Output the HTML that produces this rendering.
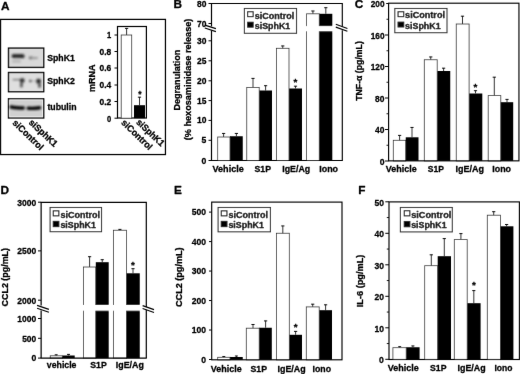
<!DOCTYPE html>
<html lang="en">
<head>
<meta charset="utf-8">
<title>Figure</title>
<style>
html,body{margin:0;padding:0;background:#fff;}
body{width:520px;height:374px;overflow:hidden;}
svg{display:block;}
svg text{font-family:"Liberation Sans", sans-serif;font-weight:bold;fill:#000;stroke:#000;stroke-width:0.3px;stroke-linejoin:round;}
svg text.rt{stroke-width:0.3px;}
</style>
</head>
<body>
<svg width="520" height="374" viewBox="0 0 520 374">
<defs><filter id="soft" x="0" y="0" width="520" height="374" filterUnits="userSpaceOnUse"><feConvolveMatrix order="3" kernelMatrix="1 18 1 18 324 18 1 18 1" divisor="400" edgeMode="none" preserveAlpha="false"/></filter><filter id="bl" x="-20%" y="-50%" width="140%" height="200%"><feGaussianBlur stdDeviation="0.9"/></filter></defs>
<rect x="0" y="0" width="520" height="374" fill="#fff"/>
<g filter="url(#soft)">
<text x="1.0" y="10" font-size="11.8" text-anchor="start">A</text>
<text x="173.4" y="8" font-size="11.8" text-anchor="start">B</text>
<text x="354.8" y="8.3" font-size="11.8" text-anchor="start">C</text>
<text x="0.4" y="193.8" font-size="11.8" text-anchor="start">D</text>
<text x="174.0" y="193.8" font-size="11.8" text-anchor="start">E</text>
<text x="358.3" y="193.5" font-size="11.8" text-anchor="start">F</text>
<rect x="0.55" y="19.4" width="164.9" height="135.15" fill="none" stroke="#000" stroke-width="1.25"/>
<rect x="8.5" y="48.1" width="35.2" height="19.3" fill="#d9d9d9" stroke="#111" stroke-width="1.4"/>
<rect x="8.5" y="72.5" width="35.2" height="19.2" fill="#dfdfdf" stroke="#111" stroke-width="1.4"/>
<rect x="8.5" y="98.8" width="35.2" height="19.2" fill="#d0d0d0" stroke="#111" stroke-width="1.4"/>
<rect x="9.7" y="100" width="32.8" height="16.8" fill="none" stroke="#eee" stroke-width="0.8"/>
<g filter="url(#bl)">
<rect x="11.6" y="53.9" width="13" height="4.4" rx="2" fill="#2a2a2a"/>
<rect x="12" y="59.5" width="9" height="3.5" rx="1.5" fill="#bdbdbd"/>
<rect x="28.8" y="56.4" width="4.4" height="2.8" rx="1.2" fill="#6e6e6e"/>
<rect x="31" y="57.0" width="7" height="2" rx="0.9" fill="#9a9a9a"/>
<rect x="12.5" y="78.9" width="8.5" height="1.3" rx="0.6" fill="#6a6a6a"/>
<rect x="19.8" y="78.3" width="4.8" height="4.4" rx="1.6" fill="#333"/>
<rect x="20" y="82" width="2.8" height="5.6" rx="1.3" fill="#5a5a5a"/>
<rect x="29" y="79.8" width="2.8" height="2.4" rx="1" fill="#555"/>
<rect x="31.5" y="80.5" width="5" height="1" rx="0.5" fill="#aaa"/>
<rect x="36" y="78.8" width="5" height="4.8" rx="1.7" fill="#333"/>
<rect x="38" y="83" width="3" height="4.8" rx="1.3" fill="#5a5a5a"/>
<path d="M11.2 107.0 Q14 107.5 17 107.7 T23.2 108.0" fill="none" stroke="#000" stroke-width="3.5" stroke-linecap="round"/>
<path d="M28.2 108.2 Q32 108.5 35 108.2 T39.6 107.7" fill="none" stroke="#000" stroke-width="3.4" stroke-linecap="round"/>
</g>
<text x="47.2" y="61" font-size="9.7" text-anchor="start" textLength="27.6" lengthAdjust="spacingAndGlyphs">SphK1</text>
<text x="47.2" y="84.0" font-size="9.7" text-anchor="start" textLength="27.6" lengthAdjust="spacingAndGlyphs">SphK2</text>
<text x="47.4" y="109.8" font-size="9.7" text-anchor="start" textLength="29.2" lengthAdjust="spacingAndGlyphs">tubulin</text>
<text class="rt" transform="translate(12.0,123.6) rotate(44)" font-size="9.2" textLength="39" lengthAdjust="spacingAndGlyphs">siControl</text>
<text class="rt" transform="translate(28.2,123.2) rotate(43)" font-size="9.2" textLength="35.5" lengthAdjust="spacingAndGlyphs">siSphK1</text>
<rect x="117.5" y="26.5" width="28.9" height="91.5" fill="none" stroke="#000" stroke-width="1.2"/>
<line x1="114.5" y1="35" x2="117.6" y2="35" stroke="#000" stroke-width="1.0"/>
<text x="111.3" y="38.3" font-size="8.6" text-anchor="end" textLength="4.2" lengthAdjust="spacingAndGlyphs">1</text>
<line x1="114.5" y1="51.5" x2="117.6" y2="51.5" stroke="#000" stroke-width="1.0"/>
<text x="111.3" y="54.8" font-size="8.6" text-anchor="end" textLength="11.7" lengthAdjust="spacingAndGlyphs">0.8</text>
<line x1="114.5" y1="68" x2="117.6" y2="68" stroke="#000" stroke-width="1.0"/>
<text x="111.3" y="71.3" font-size="8.6" text-anchor="end" textLength="11.7" lengthAdjust="spacingAndGlyphs">0.6</text>
<line x1="114.5" y1="85" x2="117.6" y2="85" stroke="#000" stroke-width="1.0"/>
<text x="111.3" y="88.3" font-size="8.6" text-anchor="end" textLength="11.7" lengthAdjust="spacingAndGlyphs">0.4</text>
<line x1="114.5" y1="101.5" x2="117.6" y2="101.5" stroke="#000" stroke-width="1.0"/>
<text x="111.3" y="104.8" font-size="8.6" text-anchor="end" textLength="11.7" lengthAdjust="spacingAndGlyphs">0.2</text>
<line x1="114.5" y1="118.2" x2="117.6" y2="118.2" stroke="#000" stroke-width="1.0"/>
<text x="111.3" y="121.5" font-size="8.6" text-anchor="end" textLength="4.2" lengthAdjust="spacingAndGlyphs">0</text>
<rect x="121.2" y="35" width="10.50" height="83.20" fill="#fff" stroke="#333" stroke-width="0.8"/>
<rect x="134" y="105.2" width="11.00" height="13.00" fill="#000"/>
<line x1="126.6" y1="28.2" x2="126.6" y2="35" stroke="#111" stroke-width="0.85"/>
<line x1="125.0" y1="28.4" x2="128.2" y2="28.4" stroke="#111" stroke-width="1.0"/>
<line x1="139.5" y1="97" x2="139.5" y2="105.2" stroke="#111" stroke-width="0.85"/>
<line x1="137.9" y1="97.2" x2="141.1" y2="97.2" stroke="#111" stroke-width="1.0"/>
<text x="139.9" y="97.06" font-size="8.5" text-anchor="middle">*</text>
<text transform="translate(95,78.3) rotate(-90)" font-size="9.3" text-anchor="middle" textLength="27.5" lengthAdjust="spacingAndGlyphs">mRNA</text>
<text class="rt" transform="translate(120.7,123.3) rotate(44)" font-size="9.2" textLength="39.2" lengthAdjust="spacingAndGlyphs">siControl</text>
<text class="rt" transform="translate(135.7,123.0) rotate(43.5)" font-size="9.2" textLength="34.8" lengthAdjust="spacingAndGlyphs">siSphK1</text>
<rect x="217.7" y="137" width="12.30" height="23.50" fill="#fff" stroke="#333" stroke-width="0.8"/>
<rect x="230" y="136.25" width="12.75" height="24.25" fill="#000"/>
<rect x="246.75" y="87.5" width="12.45" height="73.00" fill="#fff" stroke="#333" stroke-width="0.8"/>
<rect x="259.2" y="90.5" width="12.80" height="70.00" fill="#000"/>
<rect x="276.5" y="48.3" width="12.50" height="112.20" fill="#fff" stroke="#333" stroke-width="0.8"/>
<rect x="289" y="88.5" width="13.00" height="72.00" fill="#000"/>
<rect x="306.6" y="13.8" width="12.65" height="146.70" fill="#fff" stroke="#333" stroke-width="0.8"/>
<rect x="319.25" y="13.8" width="13.05" height="146.70" fill="#000"/>
<rect x="305.5" y="26.1" width="28" height="5.2" fill="#fff"/>
<line x1="223.6" y1="133.25" x2="223.6" y2="137" stroke="#111" stroke-width="0.85"/>
<line x1="222.0" y1="133.45" x2="225.2" y2="133.45" stroke="#111" stroke-width="1.0"/>
<line x1="236.4" y1="133.25" x2="236.4" y2="136.25" stroke="#111" stroke-width="0.85"/>
<line x1="234.8" y1="133.45" x2="238.0" y2="133.45" stroke="#111" stroke-width="1.0"/>
<line x1="253" y1="78.2" x2="253" y2="87.5" stroke="#111" stroke-width="0.85"/>
<line x1="251.4" y1="78.4" x2="254.6" y2="78.4" stroke="#111" stroke-width="1.0"/>
<line x1="265.6" y1="85.5" x2="265.6" y2="90.5" stroke="#111" stroke-width="0.85"/>
<line x1="264.0" y1="85.7" x2="267.20000000000005" y2="85.7" stroke="#111" stroke-width="1.0"/>
<line x1="282.75" y1="45.75" x2="282.75" y2="48.3" stroke="#111" stroke-width="0.85"/>
<line x1="281.15" y1="45.95" x2="284.35" y2="45.95" stroke="#111" stroke-width="1.0"/>
<line x1="295.5" y1="86" x2="295.5" y2="88.5" stroke="#111" stroke-width="0.85"/>
<line x1="293.9" y1="86.2" x2="297.1" y2="86.2" stroke="#111" stroke-width="1.0"/>
<line x1="312.9" y1="10.8" x2="312.9" y2="13.8" stroke="#111" stroke-width="0.85"/>
<line x1="311.29999999999995" y1="11.0" x2="314.5" y2="11.0" stroke="#111" stroke-width="1.0"/>
<line x1="325.8" y1="7.5" x2="325.8" y2="13.8" stroke="#111" stroke-width="0.85"/>
<line x1="324.2" y1="7.7" x2="327.40000000000003" y2="7.7" stroke="#111" stroke-width="1.0"/>
<text x="295.4" y="85.188" font-size="9.8" text-anchor="middle">*</text>
<line x1="211.5" y1="3.45" x2="211.5" y2="26.4" stroke="#000" stroke-width="1.2"/>
<line x1="211.5" y1="30.5" x2="211.5" y2="160.5" stroke="#000" stroke-width="1.2"/>
<line x1="342.3" y1="3.45" x2="342.3" y2="26.5" stroke="#000" stroke-width="1.15"/>
<line x1="342.3" y1="30.2" x2="342.3" y2="160.5" stroke="#000" stroke-width="1.15"/>
<line x1="211.0" y1="3.45" x2="342.8" y2="3.45" stroke="#000" stroke-width="1.15"/>
<line x1="211.0" y1="160.5" x2="342.8" y2="160.5" stroke="#000" stroke-width="1.2"/>
<line x1="204.8" y1="25.1" x2="215.9" y2="28.650000000000002" stroke="#000" stroke-width="1.15"/>
<line x1="204.8" y1="28.05" x2="215.9" y2="31.6" stroke="#000" stroke-width="1.15"/>
<line x1="335.8" y1="24.3" x2="347.40000000000003" y2="28.5" stroke="#000" stroke-width="1.15"/>
<line x1="335.8" y1="27.1" x2="347.40000000000003" y2="31.3" stroke="#000" stroke-width="1.15"/>
<line x1="208.5" y1="3.5" x2="211.5" y2="3.5" stroke="#000" stroke-width="1.0"/>
<text x="206.4" y="6.55" font-size="9.9" text-anchor="end" textLength="9.4" lengthAdjust="spacingAndGlyphs">80</text>
<line x1="208.5" y1="23.5" x2="211.5" y2="23.5" stroke="#000" stroke-width="1.0"/>
<text x="206.4" y="26.55" font-size="9.9" text-anchor="end" textLength="9.4" lengthAdjust="spacingAndGlyphs">70</text>
<line x1="208.5" y1="40.8" x2="211.5" y2="40.8" stroke="#000" stroke-width="1.0"/>
<text x="206.4" y="43.849999999999994" font-size="9.9" text-anchor="end" textLength="9.4" lengthAdjust="spacingAndGlyphs">30</text>
<line x1="208.5" y1="60.8" x2="211.5" y2="60.8" stroke="#000" stroke-width="1.0"/>
<text x="206.4" y="63.849999999999994" font-size="9.9" text-anchor="end" textLength="9.4" lengthAdjust="spacingAndGlyphs">25</text>
<line x1="208.5" y1="80.8" x2="211.5" y2="80.8" stroke="#000" stroke-width="1.0"/>
<text x="206.4" y="83.85" font-size="9.9" text-anchor="end" textLength="9.4" lengthAdjust="spacingAndGlyphs">20</text>
<line x1="208.5" y1="100.6" x2="211.5" y2="100.6" stroke="#000" stroke-width="1.0"/>
<text x="206.4" y="103.64999999999999" font-size="9.9" text-anchor="end" textLength="9.4" lengthAdjust="spacingAndGlyphs">15</text>
<line x1="208.5" y1="120.4" x2="211.5" y2="120.4" stroke="#000" stroke-width="1.0"/>
<text x="206.4" y="123.45" font-size="9.9" text-anchor="end" textLength="9.4" lengthAdjust="spacingAndGlyphs">10</text>
<line x1="208.5" y1="140.3" x2="211.5" y2="140.3" stroke="#000" stroke-width="1.0"/>
<text x="206.4" y="143.35000000000002" font-size="9.9" text-anchor="end" textLength="4.8" lengthAdjust="spacingAndGlyphs">5</text>
<line x1="208.5" y1="160.5" x2="211.5" y2="160.5" stroke="#000" stroke-width="1.0"/>
<text x="206.4" y="163.55" font-size="9.9" text-anchor="end" textLength="4.8" lengthAdjust="spacingAndGlyphs">0</text>
<text x="212.5" y="172.0" font-size="9.6" text-anchor="start" textLength="31.3" lengthAdjust="spacingAndGlyphs">Vehicle</text>
<text x="254.5" y="172.0" font-size="9.6" text-anchor="start" textLength="16.5" lengthAdjust="spacingAndGlyphs">S1P</text>
<text x="282.3" y="172.0" font-size="9.6" text-anchor="start" textLength="27.9" lengthAdjust="spacingAndGlyphs">IgE/Ag</text>
<text x="319.25" y="172.0" font-size="9.6" text-anchor="start" textLength="18.8" lengthAdjust="spacingAndGlyphs">Iono</text>
<rect x="244.4" y="8.5" width="52.10" height="24.80" fill="#fff" stroke="#383838" stroke-width="1.1"/>
<rect x="247.65" y="11.75" width="5.50" height="4.90" fill="#fff" stroke="#111" stroke-width="1.05"/>
<rect x="247.15" y="21.75" width="6.50" height="5.90" fill="#000"/>
<text x="254.8" y="18.6" font-size="9" text-anchor="start" textLength="39.4" lengthAdjust="spacingAndGlyphs">siControl</text>
<text x="254.8" y="28.7" font-size="9" text-anchor="start" textLength="35.4" lengthAdjust="spacingAndGlyphs">siSphK1</text>
<text transform="translate(179.7,80.1) rotate(-90)" font-size="9.1" text-anchor="middle" textLength="61" lengthAdjust="spacingAndGlyphs">Degranulation</text>
<text transform="translate(190.9,79.45) rotate(-90)" font-size="9.1" text-anchor="middle" textLength="121.5" lengthAdjust="spacingAndGlyphs">(% hexosaminidase release)</text>
<rect x="393.3" y="140.3" width="12.45" height="20.55" fill="#fff" stroke="#333" stroke-width="0.8"/>
<rect x="405.75" y="137.3" width="12.75" height="23.55" fill="#000"/>
<rect x="424.3" y="59.75" width="12.90" height="101.10" fill="#fff" stroke="#333" stroke-width="0.8"/>
<rect x="437.2" y="71" width="13.05" height="89.85" fill="#000"/>
<rect x="456.25" y="24" width="12.85" height="136.85" fill="#fff" stroke="#333" stroke-width="0.8"/>
<rect x="469.1" y="93.5" width="13.20" height="67.35" fill="#000"/>
<rect x="488.2" y="95.6" width="12.60" height="65.25" fill="#fff" stroke="#333" stroke-width="0.8"/>
<rect x="500.7" y="102.2" width="12.50" height="58.65" fill="#000"/>
<line x1="399.6" y1="135.2" x2="399.6" y2="140.3" stroke="#111" stroke-width="0.85"/>
<line x1="398.0" y1="135.39999999999998" x2="401.20000000000005" y2="135.39999999999998" stroke="#111" stroke-width="1.0"/>
<line x1="412" y1="127.25" x2="412" y2="137.3" stroke="#111" stroke-width="0.85"/>
<line x1="410.4" y1="127.45" x2="413.6" y2="127.45" stroke="#111" stroke-width="1.0"/>
<line x1="430.75" y1="56.75" x2="430.75" y2="59.75" stroke="#111" stroke-width="0.85"/>
<line x1="429.15" y1="56.95" x2="432.35" y2="56.95" stroke="#111" stroke-width="1.0"/>
<line x1="443.6" y1="68" x2="443.6" y2="71" stroke="#111" stroke-width="0.85"/>
<line x1="442.0" y1="68.2" x2="445.20000000000005" y2="68.2" stroke="#111" stroke-width="1.0"/>
<line x1="462.5" y1="16" x2="462.5" y2="24" stroke="#111" stroke-width="0.85"/>
<line x1="460.9" y1="16.2" x2="464.1" y2="16.2" stroke="#111" stroke-width="1.0"/>
<line x1="475.5" y1="90.5" x2="475.5" y2="93.5" stroke="#111" stroke-width="0.85"/>
<line x1="473.9" y1="90.7" x2="477.1" y2="90.7" stroke="#111" stroke-width="1.0"/>
<line x1="494.3" y1="77" x2="494.3" y2="95.6" stroke="#111" stroke-width="0.85"/>
<line x1="492.7" y1="77.2" x2="495.90000000000003" y2="77.2" stroke="#111" stroke-width="1.0"/>
<line x1="507" y1="99.2" x2="507" y2="102.2" stroke="#111" stroke-width="0.85"/>
<line x1="505.4" y1="99.4" x2="508.6" y2="99.4" stroke="#111" stroke-width="1.0"/>
<text x="475.5" y="89.988" font-size="9.8" text-anchor="middle">*</text>
<rect x="388.6" y="3.2" width="130.35" height="157.65" fill="none" stroke="#000" stroke-width="1.15"/>
<line x1="385" y1="161.0" x2="388.6" y2="161.0" stroke="#000" stroke-width="1.0"/>
<text x="384.5" y="164.8" font-size="9.9" text-anchor="end" textLength="4.8" lengthAdjust="spacingAndGlyphs">0</text>
<line x1="386.5" y1="145.25" x2="388.6" y2="145.25" stroke="#000" stroke-width="0.9"/>
<line x1="385" y1="129.5" x2="388.6" y2="129.5" stroke="#000" stroke-width="1.0"/>
<text x="384.5" y="133.3" font-size="9.9" text-anchor="end" textLength="9.4" lengthAdjust="spacingAndGlyphs">40</text>
<line x1="386.5" y1="113.75" x2="388.6" y2="113.75" stroke="#000" stroke-width="0.9"/>
<line x1="385" y1="98.0" x2="388.6" y2="98.0" stroke="#000" stroke-width="1.0"/>
<text x="384.5" y="101.8" font-size="9.9" text-anchor="end" textLength="9.4" lengthAdjust="spacingAndGlyphs">80</text>
<line x1="386.5" y1="82.25" x2="388.6" y2="82.25" stroke="#000" stroke-width="0.9"/>
<line x1="385" y1="66.5" x2="388.6" y2="66.5" stroke="#000" stroke-width="1.0"/>
<text x="384.5" y="70.3" font-size="9.9" text-anchor="end" textLength="13.8" lengthAdjust="spacingAndGlyphs">120</text>
<line x1="386.5" y1="50.75" x2="388.6" y2="50.75" stroke="#000" stroke-width="0.9"/>
<line x1="385" y1="35.0" x2="388.6" y2="35.0" stroke="#000" stroke-width="1.0"/>
<text x="384.5" y="38.8" font-size="9.9" text-anchor="end" textLength="13.8" lengthAdjust="spacingAndGlyphs">160</text>
<line x1="386.5" y1="19.25" x2="388.6" y2="19.25" stroke="#000" stroke-width="0.9"/>
<line x1="386.2" y1="3.5" x2="388.6" y2="3.5" stroke="#000" stroke-width="1.0"/>
<text x="384.5" y="7.3" font-size="9.9" text-anchor="end" textLength="13.8" lengthAdjust="spacingAndGlyphs">200</text>
<text x="385.8" y="172.4" font-size="9.6" text-anchor="start" textLength="30.9" lengthAdjust="spacingAndGlyphs">Vehicle</text>
<text x="427.75" y="172.4" font-size="9.6" text-anchor="start" textLength="16.1" lengthAdjust="spacingAndGlyphs">S1P</text>
<text x="455.5" y="172.4" font-size="9.6" text-anchor="start" textLength="28.5" lengthAdjust="spacingAndGlyphs">IgE/Ag</text>
<text x="492.25" y="172.4" font-size="9.6" text-anchor="start" textLength="18.8" lengthAdjust="spacingAndGlyphs">Iono</text>
<rect x="394.8" y="8.5" width="52.20" height="24.20" fill="#fff" stroke="#383838" stroke-width="1.1"/>
<rect x="398.05" y="11.75" width="5.70" height="4.90" fill="#fff" stroke="#111" stroke-width="1.05"/>
<rect x="397.55" y="21.65" width="6.70" height="5.80" fill="#000"/>
<text x="405.1" y="18.4" font-size="9" text-anchor="start" textLength="39.9" lengthAdjust="spacingAndGlyphs">siControl</text>
<text x="405.1" y="28.6" font-size="9" text-anchor="start" textLength="35.5" lengthAdjust="spacingAndGlyphs">siSphK1</text>
<text transform="translate(362.4,71) rotate(-90)" font-size="9.2" text-anchor="middle" textLength="59.6" lengthAdjust="spacingAndGlyphs">TNF-α (pg/mL)</text>
<rect x="50.25" y="355.8" width="12.00" height="2.30" fill="#fff" stroke="#333" stroke-width="0.8"/>
<rect x="62.25" y="355.5" width="12.45" height="2.60" fill="#000"/>
<rect x="83.5" y="267" width="12.30" height="91.10" fill="#fff" stroke="#333" stroke-width="0.8"/>
<rect x="95.8" y="262.2" width="12.90" height="95.90" fill="#000"/>
<rect x="113.4" y="230.25" width="13.00" height="127.85" fill="#fff" stroke="#333" stroke-width="0.8"/>
<rect x="126.4" y="273.3" width="13.35" height="84.80" fill="#000"/>
<rect x="82" y="305" width="59" height="5.7" fill="#fff"/>
<line x1="56.2" y1="354.6" x2="56.2" y2="355.8" stroke="#111" stroke-width="0.85"/>
<line x1="54.7" y1="354.8" x2="57.7" y2="354.8" stroke="#111" stroke-width="1.0"/>
<line x1="68.5" y1="354.2" x2="68.5" y2="355.5" stroke="#111" stroke-width="0.85"/>
<line x1="67.0" y1="354.4" x2="70.0" y2="354.4" stroke="#111" stroke-width="1.0"/>
<line x1="89.6" y1="256.5" x2="89.6" y2="267" stroke="#111" stroke-width="0.85"/>
<line x1="88.0" y1="256.7" x2="91.19999999999999" y2="256.7" stroke="#111" stroke-width="1.0"/>
<line x1="102.25" y1="259.5" x2="102.25" y2="262.2" stroke="#111" stroke-width="0.85"/>
<line x1="100.65" y1="259.7" x2="103.85" y2="259.7" stroke="#111" stroke-width="1.0"/>
<line x1="119.9" y1="229.2" x2="119.9" y2="230.25" stroke="#111" stroke-width="0.85"/>
<line x1="118.30000000000001" y1="229.39999999999998" x2="121.5" y2="229.39999999999998" stroke="#111" stroke-width="1.0"/>
<line x1="133" y1="268.5" x2="133" y2="273.3" stroke="#111" stroke-width="0.85"/>
<line x1="131.4" y1="268.7" x2="134.6" y2="268.7" stroke="#111" stroke-width="1.0"/>
<text x="133" y="268.288" font-size="9.8" text-anchor="middle">*</text>
<line x1="41.15" y1="202.15" x2="41.15" y2="305.6" stroke="#1a1a1a" stroke-width="1.35"/>
<line x1="41.15" y1="310.4" x2="41.15" y2="358.1" stroke="#1a1a1a" stroke-width="1.35"/>
<line x1="146.3" y1="202.15" x2="146.3" y2="307.0" stroke="#000" stroke-width="1.2"/>
<line x1="146.3" y1="309.7" x2="146.3" y2="358.1" stroke="#000" stroke-width="1.2"/>
<line x1="40.65" y1="202.3" x2="146.8" y2="202.3" stroke="#000" stroke-width="1.15"/>
<line x1="40.65" y1="358.1" x2="146.8" y2="358.1" stroke="#000" stroke-width="1.25"/>
<line x1="37.1" y1="305.4" x2="48.900000000000006" y2="309.4" stroke="#000" stroke-width="1.15"/>
<line x1="37.1" y1="308.29999999999995" x2="48.900000000000006" y2="312.29999999999995" stroke="#000" stroke-width="1.15"/>
<line x1="142.6" y1="305.6" x2="154.0" y2="309.6" stroke="#000" stroke-width="1.15"/>
<line x1="142.6" y1="308.5" x2="154.0" y2="312.5" stroke="#000" stroke-width="1.15"/>
<line x1="38" y1="202.2" x2="41.15" y2="202.2" stroke="#000" stroke-width="1.0"/>
<text x="36.2" y="205.5" font-size="9.9" text-anchor="end" textLength="18.9" lengthAdjust="spacingAndGlyphs">3000</text>
<line x1="38" y1="250.9" x2="41.15" y2="250.9" stroke="#000" stroke-width="1.0"/>
<text x="36.2" y="254.20000000000002" font-size="9.9" text-anchor="end" textLength="18.9" lengthAdjust="spacingAndGlyphs">2500</text>
<line x1="38" y1="300.2" x2="41.15" y2="300.2" stroke="#000" stroke-width="1.0"/>
<text x="36.2" y="303.5" font-size="9.9" text-anchor="end" textLength="18.9" lengthAdjust="spacingAndGlyphs">2000</text>
<line x1="38" y1="318.5" x2="41.15" y2="318.5" stroke="#000" stroke-width="1.0"/>
<text x="36.2" y="321.8" font-size="9.9" text-anchor="end" textLength="18.9" lengthAdjust="spacingAndGlyphs">1000</text>
<line x1="38" y1="338.3" x2="41.15" y2="338.3" stroke="#000" stroke-width="1.0"/>
<text x="36.2" y="341.6" font-size="9.9" text-anchor="end" textLength="14" lengthAdjust="spacingAndGlyphs">500</text>
<line x1="38" y1="358.1" x2="41.15" y2="358.1" stroke="#000" stroke-width="1.0"/>
<text x="36.2" y="361.40000000000003" font-size="9.9" text-anchor="end" textLength="4.8" lengthAdjust="spacingAndGlyphs">0</text>
<text x="46.8" y="368.0" font-size="9.6" text-anchor="start" textLength="29.7" lengthAdjust="spacingAndGlyphs">vehicle</text>
<text x="90.25" y="368.0" font-size="9.6" text-anchor="start" textLength="16.5" lengthAdjust="spacingAndGlyphs">S1P</text>
<text x="115.75" y="368.0" font-size="9.6" text-anchor="start" textLength="28.1" lengthAdjust="spacingAndGlyphs">IgE/Ag</text>
<rect x="50.1" y="207.5" width="51.40" height="24.20" fill="#fff" stroke="#383838" stroke-width="1.1"/>
<rect x="53.25" y="210.85" width="5.60" height="5.00" fill="#fff" stroke="#111" stroke-width="1.05"/>
<rect x="52.75" y="220.85" width="6.60" height="6.30" fill="#000"/>
<text x="60.4" y="218" font-size="9" text-anchor="start" textLength="39.6" lengthAdjust="spacingAndGlyphs">siControl</text>
<text x="60.4" y="227.8" font-size="9" text-anchor="start" textLength="35.5" lengthAdjust="spacingAndGlyphs">siSphK1</text>
<text transform="translate(7.8,277.2) rotate(-90)" font-size="9.3" text-anchor="middle" textLength="58.5" lengthAdjust="spacingAndGlyphs">CCL2 (pg/mL)</text>
<rect x="217.7" y="357.3" width="12.30" height="2.50" fill="#fff" stroke="#333" stroke-width="0.8"/>
<rect x="230" y="357" width="12.75" height="2.80" fill="#000"/>
<rect x="246.3" y="328.2" width="12.90" height="31.60" fill="#fff" stroke="#333" stroke-width="0.8"/>
<rect x="259.2" y="327.75" width="12.60" height="32.05" fill="#000"/>
<rect x="276.5" y="233.25" width="12.80" height="126.55" fill="#fff" stroke="#333" stroke-width="0.8"/>
<rect x="289.3" y="334.8" width="12.70" height="25.00" fill="#000"/>
<rect x="306.3" y="306.9" width="12.90" height="52.90" fill="#fff" stroke="#333" stroke-width="0.8"/>
<rect x="319.2" y="310.2" width="12.80" height="49.60" fill="#000"/>
<line x1="223.8" y1="356.3" x2="223.8" y2="357.3" stroke="#111" stroke-width="0.85"/>
<line x1="222.3" y1="356.5" x2="225.3" y2="356.5" stroke="#111" stroke-width="1.0"/>
<line x1="236.4" y1="355.8" x2="236.4" y2="357" stroke="#111" stroke-width="0.85"/>
<line x1="234.9" y1="356.0" x2="237.9" y2="356.0" stroke="#111" stroke-width="1.0"/>
<line x1="253" y1="324.3" x2="253" y2="328.2" stroke="#111" stroke-width="0.85"/>
<line x1="251.4" y1="324.5" x2="254.6" y2="324.5" stroke="#111" stroke-width="1.0"/>
<line x1="265.6" y1="320.7" x2="265.6" y2="327.75" stroke="#111" stroke-width="0.85"/>
<line x1="264.0" y1="320.9" x2="267.20000000000005" y2="320.9" stroke="#111" stroke-width="1.0"/>
<line x1="282.8" y1="225.75" x2="282.8" y2="233.25" stroke="#111" stroke-width="0.85"/>
<line x1="281.2" y1="225.95" x2="284.40000000000003" y2="225.95" stroke="#111" stroke-width="1.0"/>
<line x1="295.6" y1="331.2" x2="295.6" y2="334.8" stroke="#111" stroke-width="0.85"/>
<line x1="294.0" y1="331.4" x2="297.20000000000005" y2="331.4" stroke="#111" stroke-width="1.0"/>
<line x1="312.7" y1="304" x2="312.7" y2="306.9" stroke="#111" stroke-width="0.85"/>
<line x1="311.09999999999997" y1="304.2" x2="314.3" y2="304.2" stroke="#111" stroke-width="1.0"/>
<line x1="325.6" y1="304.6" x2="325.6" y2="310.2" stroke="#111" stroke-width="0.85"/>
<line x1="324.0" y1="304.8" x2="327.20000000000005" y2="304.8" stroke="#111" stroke-width="1.0"/>
<text x="295.6" y="330.238" font-size="9.8" text-anchor="middle">*</text>
<rect x="211.7" y="202.1" width="130.30" height="157.70" fill="none" stroke="#000" stroke-width="1.15"/>
<line x1="209" y1="359.5" x2="211.7" y2="359.5" stroke="#000" stroke-width="1.0"/>
<text x="206.1" y="362.8" font-size="9.9" text-anchor="end" textLength="4.8" lengthAdjust="spacingAndGlyphs">0</text>
<line x1="209" y1="330.02" x2="211.7" y2="330.02" stroke="#000" stroke-width="1.0"/>
<text x="206.1" y="333.32" font-size="9.9" text-anchor="end" textLength="14.3" lengthAdjust="spacingAndGlyphs">100</text>
<line x1="209" y1="300.54" x2="211.7" y2="300.54" stroke="#000" stroke-width="1.0"/>
<text x="206.1" y="303.84000000000003" font-size="9.9" text-anchor="end" textLength="14.3" lengthAdjust="spacingAndGlyphs">200</text>
<line x1="209" y1="271.06" x2="211.7" y2="271.06" stroke="#000" stroke-width="1.0"/>
<text x="206.1" y="274.36" font-size="9.9" text-anchor="end" textLength="14.3" lengthAdjust="spacingAndGlyphs">300</text>
<line x1="209" y1="241.57999999999998" x2="211.7" y2="241.57999999999998" stroke="#000" stroke-width="1.0"/>
<text x="206.1" y="244.88" font-size="9.9" text-anchor="end" textLength="14.3" lengthAdjust="spacingAndGlyphs">400</text>
<line x1="209" y1="212.1" x2="211.7" y2="212.1" stroke="#000" stroke-width="1.0"/>
<text x="206.1" y="215.4" font-size="9.9" text-anchor="end" textLength="14.3" lengthAdjust="spacingAndGlyphs">500</text>
<text x="210.8" y="371.5" font-size="9.6" text-anchor="start" textLength="30.9" lengthAdjust="spacingAndGlyphs">Vehicle</text>
<text x="250.5" y="371.5" font-size="9.6" text-anchor="start" textLength="16.5" lengthAdjust="spacingAndGlyphs">S1P</text>
<text x="277.5" y="371.5" font-size="9.6" text-anchor="start" textLength="28.2" lengthAdjust="spacingAndGlyphs">IgE/Ag</text>
<text x="312.5" y="371.5" font-size="9.6" text-anchor="start" textLength="18.5" lengthAdjust="spacingAndGlyphs">Iono</text>
<rect x="218.1" y="207.5" width="52.30" height="24.30" fill="#fff" stroke="#383838" stroke-width="1.1"/>
<rect x="221.25" y="210.85" width="5.70" height="5.00" fill="#fff" stroke="#111" stroke-width="1.05"/>
<rect x="220.75" y="220.85" width="6.70" height="6.30" fill="#000"/>
<text x="228.4" y="218" font-size="9" text-anchor="start" textLength="39.6" lengthAdjust="spacingAndGlyphs">siControl</text>
<text x="228.4" y="227.8" font-size="9" text-anchor="start" textLength="35.5" lengthAdjust="spacingAndGlyphs">siSphK1</text>
<text transform="translate(182.4,277.2) rotate(-90)" font-size="9" text-anchor="middle" textLength="59.6" lengthAdjust="spacingAndGlyphs">CCL2 (pg/mL)</text>
<rect x="392.9" y="347.7" width="13.30" height="11.80" fill="#fff" stroke="#333" stroke-width="0.8"/>
<rect x="406.2" y="347.25" width="13.40" height="12.25" fill="#000"/>
<rect x="424.7" y="265.7" width="13.00" height="93.80" fill="#fff" stroke="#333" stroke-width="0.8"/>
<rect x="437.7" y="256.2" width="13.30" height="103.30" fill="#000"/>
<rect x="454.3" y="239.6" width="12.90" height="119.90" fill="#fff" stroke="#333" stroke-width="0.8"/>
<rect x="467.2" y="303.2" width="13.40" height="56.30" fill="#000"/>
<rect x="487.3" y="215.2" width="13.10" height="144.30" fill="#fff" stroke="#333" stroke-width="0.8"/>
<rect x="500.2" y="226.3" width="13.20" height="133.20" fill="#000"/>
<line x1="399.7" y1="346.5" x2="399.7" y2="347.7" stroke="#111" stroke-width="0.85"/>
<line x1="398.2" y1="346.7" x2="401.2" y2="346.7" stroke="#111" stroke-width="1.0"/>
<line x1="412.9" y1="345.75" x2="412.9" y2="347.25" stroke="#111" stroke-width="0.85"/>
<line x1="411.4" y1="345.95" x2="414.4" y2="345.95" stroke="#111" stroke-width="1.0"/>
<line x1="431.3" y1="254.6" x2="431.3" y2="265.7" stroke="#111" stroke-width="0.85"/>
<line x1="429.7" y1="254.79999999999998" x2="432.90000000000003" y2="254.79999999999998" stroke="#111" stroke-width="1.0"/>
<line x1="444.3" y1="238.4" x2="444.3" y2="256.2" stroke="#111" stroke-width="0.85"/>
<line x1="442.7" y1="238.6" x2="445.90000000000003" y2="238.6" stroke="#111" stroke-width="1.0"/>
<line x1="460.9" y1="233.4" x2="460.9" y2="239.6" stroke="#111" stroke-width="0.85"/>
<line x1="459.29999999999995" y1="233.6" x2="462.5" y2="233.6" stroke="#111" stroke-width="1.0"/>
<line x1="473.8" y1="290.4" x2="473.8" y2="303.2" stroke="#111" stroke-width="0.85"/>
<line x1="472.2" y1="290.59999999999997" x2="475.40000000000003" y2="290.59999999999997" stroke="#111" stroke-width="1.0"/>
<line x1="493.7" y1="211.5" x2="493.7" y2="215.2" stroke="#111" stroke-width="0.85"/>
<line x1="492.09999999999997" y1="211.7" x2="495.3" y2="211.7" stroke="#111" stroke-width="1.0"/>
<line x1="506.6" y1="224.3" x2="506.6" y2="226.3" stroke="#111" stroke-width="0.85"/>
<line x1="505.0" y1="224.5" x2="508.20000000000005" y2="224.5" stroke="#111" stroke-width="1.0"/>
<text x="473.8" y="288.288" font-size="9.8" text-anchor="middle">*</text>
<rect x="389.0" y="201.9" width="130.40" height="157.60" fill="none" stroke="#000" stroke-width="1.15"/>
<line x1="385.3" y1="359.3" x2="389.0" y2="359.3" stroke="#000" stroke-width="1.0"/>
<text x="383.9" y="363.3" font-size="9.9" text-anchor="end" textLength="4.8" lengthAdjust="spacingAndGlyphs">0</text>
<line x1="386.8" y1="343.55" x2="389.0" y2="343.55" stroke="#000" stroke-width="0.9"/>
<line x1="385.3" y1="327.8" x2="389.0" y2="327.8" stroke="#000" stroke-width="1.0"/>
<text x="383.9" y="331.8" font-size="9.9" text-anchor="end" textLength="9.5" lengthAdjust="spacingAndGlyphs">10</text>
<line x1="386.8" y1="312.05" x2="389.0" y2="312.05" stroke="#000" stroke-width="0.9"/>
<line x1="385.3" y1="296.3" x2="389.0" y2="296.3" stroke="#000" stroke-width="1.0"/>
<text x="383.9" y="300.3" font-size="9.9" text-anchor="end" textLength="9.5" lengthAdjust="spacingAndGlyphs">20</text>
<line x1="386.8" y1="280.55" x2="389.0" y2="280.55" stroke="#000" stroke-width="0.9"/>
<line x1="385.3" y1="264.8" x2="389.0" y2="264.8" stroke="#000" stroke-width="1.0"/>
<text x="383.9" y="268.8" font-size="9.9" text-anchor="end" textLength="9.5" lengthAdjust="spacingAndGlyphs">30</text>
<line x1="386.8" y1="249.05" x2="389.0" y2="249.05" stroke="#000" stroke-width="0.9"/>
<line x1="385.3" y1="233.3" x2="389.0" y2="233.3" stroke="#000" stroke-width="1.0"/>
<text x="383.9" y="237.3" font-size="9.9" text-anchor="end" textLength="9.5" lengthAdjust="spacingAndGlyphs">40</text>
<line x1="386.8" y1="217.55" x2="389.0" y2="217.55" stroke="#000" stroke-width="0.9"/>
<line x1="385.3" y1="201.8" x2="389.0" y2="201.8" stroke="#000" stroke-width="1.0"/>
<text x="383.9" y="205.8" font-size="9.9" text-anchor="end" textLength="9.5" lengthAdjust="spacingAndGlyphs">50</text>
<text x="387.75" y="371.0" font-size="9.6" text-anchor="start" textLength="31.1" lengthAdjust="spacingAndGlyphs">Vehicle</text>
<text x="430" y="371.0" font-size="9.6" text-anchor="start" textLength="16.5" lengthAdjust="spacingAndGlyphs">S1P</text>
<text x="457.5" y="371.0" font-size="9.6" text-anchor="start" textLength="28.2" lengthAdjust="spacingAndGlyphs">IgE/Ag</text>
<text x="494.5" y="371.0" font-size="9.6" text-anchor="start" textLength="18.0" lengthAdjust="spacingAndGlyphs">Iono</text>
<rect x="400.4" y="207.5" width="51.90" height="24.40" fill="#fff" stroke="#383838" stroke-width="1.1"/>
<rect x="404.25" y="210.75" width="5.60" height="5.10" fill="#fff" stroke="#111" stroke-width="1.05"/>
<rect x="403.75" y="220.95" width="6.60" height="6.30" fill="#000"/>
<text x="411.2" y="218" font-size="9" text-anchor="start" textLength="40.1" lengthAdjust="spacingAndGlyphs">siControl</text>
<text x="411.2" y="227.8" font-size="9" text-anchor="start" textLength="35.4" lengthAdjust="spacingAndGlyphs">siSphK1</text>
<text transform="translate(362.6,280.9) rotate(-90)" font-size="9.3" text-anchor="middle" textLength="52.6" lengthAdjust="spacingAndGlyphs">IL-6 (pg/mL)</text>
</g>
</svg>
</body>
</html>
